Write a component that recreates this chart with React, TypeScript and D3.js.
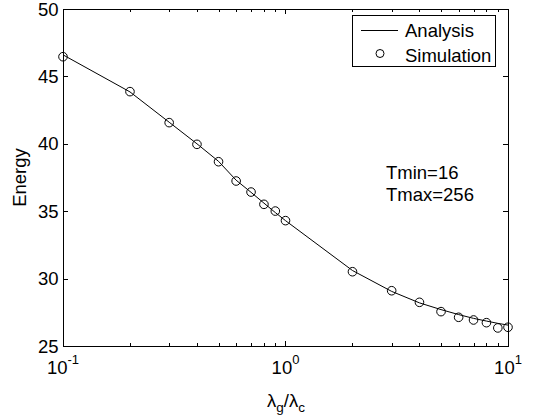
import React from 'react'
import * as d3 from 'd3'

// ratio lambda_g / lambda_c
const ratios = [0.1, 0.2, 0.3, 0.4, 0.5, 0.6, 0.7, 0.8, 0.9, 1, 2, 3, 4, 5, 6, 7, 8, 9, 10]
const analysis = [46.6, 43.85, 41.6, 40.0, 38.7, 37.3, 36.4, 35.6, 34.9, 34.3, 30.6, 29.05, 28.2, 27.7, 27.33, 27.05, 26.85, 26.68, 26.55]
const simulation = [46.46, 43.87, 41.57, 39.96, 38.67, 37.24, 36.42, 35.51, 35.01, 34.3, 30.51, 29.1, 28.24, 27.55, 27.13, 26.93, 26.73, 26.34, 26.39]
const yTicks = [25, 30, 35, 40, 45, 50]
const xMajor = [-1, 0, 1]

const W = 535
const H = 417
const m = { left: 63, right: 508, top: 9, bottom: 346 }
const font = 'Liberation Sans, Arial, Helvetica, sans-serif'
const fs = 18.5

export default function App() {
  const x = d3.scaleLog().domain([0.1, 10]).range([m.left, m.right])
  const y = d3.scaleLinear().domain([25, 50]).range([m.bottom, m.top])
  const line = d3.line<number>()
    .x((d, i) => x(ratios[i]))
    .y(d => y(d))

  const xTicks = x.ticks()

  return (
    <svg width={W} height={H} style={{ position: 'absolute', left: 0, top: 0, background: '#fff' }}
      fontFamily={font}>
      <rect x={0} y={0} width={W} height={H} fill='#fff' />

      {/* x ticks, bottom and top */}
      {xTicks.map((t, i) => {
        const major = Math.abs(Math.log10(t) - Math.round(Math.log10(t))) < 1e-9
        const len = major ? 5 : 3
        const px = Math.round(x(t)) + 0.5
        return (
          <g key={'xt' + i} stroke='#000' strokeWidth={1}>
            <line x1={px} x2={px} y1={m.bottom} y2={m.bottom - len} />
            <line x1={px} x2={px} y1={m.top} y2={m.top + len} />
          </g>
        )
      })}

      {/* y ticks, left and right */}
      {yTicks.map(t => {
        const py = Math.round(y(t)) + 0.5
        return (
          <g key={'yt' + t} stroke='#000' strokeWidth={1}>
            <line x1={m.left} x2={m.left + 5} y1={py} y2={py} />
            <line x1={m.right} x2={m.right - 5} y1={py} y2={py} />
          </g>
        )
      })}

      <rect x={m.left + 0.5} y={m.top + 0.5} width={m.right - m.left} height={m.bottom - m.top}
        fill='none' stroke='#000' strokeWidth={1} />

      {yTicks.map(t => (
        <text key={'yl' + t} x={m.left - 4.5} y={y(t) + 6.6} textAnchor='end' fontSize={fs} fill='#000'>{t}</text>
      ))}

      {xMajor.map(e => (
        <text key={'xl' + e} x={x(Math.pow(10, e))} y={373.5} textAnchor='middle' fontSize={fs} fill='#000'>
          10<tspan dy={-9.5} fontSize={13}>{e}</tspan>
        </text>
      ))}

      <text x={286} y={407} textAnchor='middle' fontSize={fs} fill='#000'>
        λ<tspan dy={5} fontSize={13.5}>g</tspan><tspan dy={-5}>/λ</tspan><tspan dy={5} fontSize={13.5}>c</tspan>
      </text>

      <text transform={`translate(26,${(m.top + m.bottom) / 2}) rotate(-90)`} textAnchor='middle' fontSize={fs} fill='#000'>Energy</text>

      <path d={line(analysis) || ''} fill='none' stroke='#000' strokeWidth={1} />

      {simulation.map((v, i) => (
        <circle key={'s' + i} cx={x(ratios[i])} cy={y(v)} r={4.3} fill='none' stroke='#000' strokeWidth={1} />
      ))}

      <text x={386} y={178.5} fontSize={fs} fill='#000'>Tmin=16</text>
      <text x={386} y={200.8} fontSize={fs} fill='#000'>Tmax=256</text>

      {/* legend */}
      <rect x={352.5} y={15.5} width={143} height={51} fill='#fff' stroke='#000' strokeWidth={1} />
      <line x1={361} x2={398} y1={30.5} y2={30.5} stroke='#000' strokeWidth={1} />
      <text x={405} y={37} fontSize={fs} fill='#000'>Analysis</text>
      <circle cx={380} cy={53.5} r={4} fill='none' stroke='#000' strokeWidth={1} />
      <text x={405} y={61.5} fontSize={fs} fill='#000'>Simulation</text>
    </svg>
  )
}
